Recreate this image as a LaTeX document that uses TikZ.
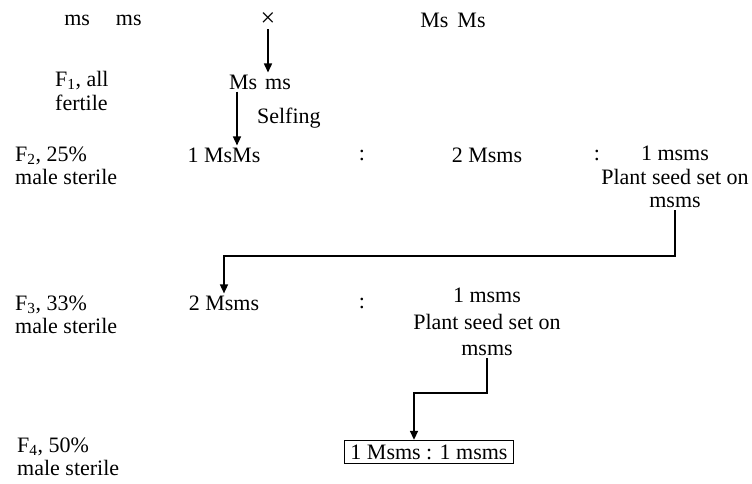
\documentclass[tikz,border=0pt]{standalone}
\usepackage{fontspec}
\setmainfont{Liberation Serif}
\usetikzlibrary{arrows.meta, positioning, calc}

\begin{document}
\begin{tikzpicture}[
		x=1pt, y=-1pt,
		font=\fontsize{22}{23.5}\selectfont,
		% Styles
		geno/.style={inner sep=2pt, align=center},
		genLabel/.style={inner sep=0pt, anchor=west, align=left},
		crossArrow/.style={-{Triangle[length=9pt, width=8pt]}, line width=1.5pt},
		ratioBox/.style={draw, line width=1.5pt, inner xsep=6pt, inner ysep=4pt}
		]
		\useasboundingbox (0,0) rectangle (752,483);
		
		% =========================================================
		% 1. PARENTS
		% =========================================================
		\node[geno] (msParent) at (103,20) {ms\hspace{26pt}ms};
		\node[geno, font=\fontsize{26}{26}\selectfont] (cross) at (268,20) {×};
		\node[geno] (MsParent) at (453,20) {Ms\hspace{9pt}Ms};
		
		% =========================================================
		% 2. F1 AND SELFING
		% =========================================================
		\node[genLabel] (labF1) at (55,91) {F\textsubscript{1}, all\\fertile};
		\node[geno] (msF1) at (260,82) {Ms\hspace{8pt}ms};
		\draw[crossArrow] (cross.south) -- (cross.south |- msF1.north);
		
		% =========================================================
		% 3. F2 GENERATION
		% =========================================================
		\node[genLabel] (labF2) at (15,166) {F\textsubscript{2}, 25\%\\male sterile};
		\node[geno] (MsMsF2) at (224,155) {1 MsMs};
		\node[geno] (colA) at (362,155) {:};
		\node[geno] (MsmsF2) at (487,155) {2 Msms};
		\node[geno] (colB) at (597,155) {:};
		\node[geno] (msmsF2) at (675,177) {1 msms\\Plant seed set on\\msms};
		
		\draw[crossArrow] ([xshift=-23pt]msF1.south) -- ([xshift=-23pt]msF1.south |- MsMsF2.north)
		node[midway, right=16pt] {Selfing};
		
		% =========================================================
		% 4. F3 GENERATION
		% =========================================================
		\node[genLabel] (labF3) at (15,315) {F\textsubscript{3}, 33\%\\male sterile};
		\node[geno] (MsmsF3) at (224,303) {2 Msms};
		\node[geno] (colC) at (362,303) {:};
		\node[geno] (msmsF3) at (487,322) {1 msms\\[3pt]Plant seed set on\\[3pt]msms};
		
		\coordinate (turnA) at (673,256);
		\draw[crossArrow] (msmsF2.south) -- (msmsF2.south |- turnA) -| (MsmsF3.north);
		
		% =========================================================
		% 5. F4 GENERATION
		% =========================================================
		\node[genLabel] (labF4) at (17,457) {F\textsubscript{4}, 50\%\\male sterile};
		\node[ratioBox] (ratioF4) at (429,452) {1 Msms : 1 msms};
		
		\coordinate (turnB) at (487,393);
		\draw[crossArrow] (msmsF3.south) -- (msmsF3.south |- turnB) -| ([xshift=-15pt]ratioF4.north);
		
	\end{tikzpicture}
\end{document}
